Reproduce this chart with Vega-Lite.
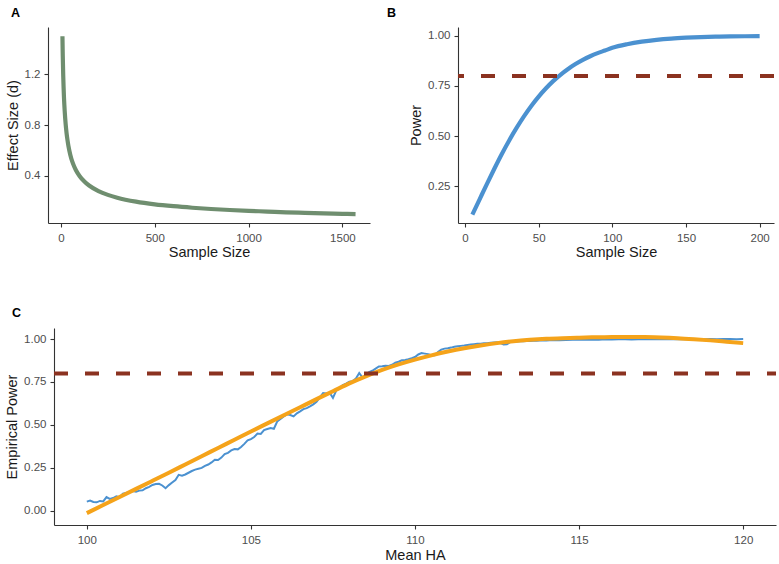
{
  "$schema": "https://vega.github.io/schema/vega-lite/v6.json",
  "padding": {"left": 4, "top": 6, "right": 2, "bottom": 2},
  "spacing": 47,
  "datasets": {
    "effect": [
      {"n": 8, "d": 1.497}, {"n": 9, "d": 1.40}, {"n": 10, "d": 1.325}, {"n": 12, "d": 1.195},
      {"n": 14, "d": 1.10}, {"n": 16, "d": 1.02}, {"n": 18, "d": 0.96}, {"n": 20, "d": 0.909},
      {"n": 25, "d": 0.809}, {"n": 30, "d": 0.736}, {"n": 35, "d": 0.68}, {"n": 40, "d": 0.634},
      {"n": 50, "d": 0.565}, {"n": 60, "d": 0.514}, {"n": 70, "d": 0.476}, {"n": 80, "d": 0.445},
      {"n": 100, "d": 0.398}, {"n": 125, "d": 0.356}, {"n": 150, "d": 0.325}, {"n": 200, "d": 0.281},
      {"n": 250, "d": 0.251}, {"n": 300, "d": 0.229}, {"n": 400, "d": 0.198}, {"n": 500, "d": 0.177},
      {"n": 600, "d": 0.162}, {"n": 700, "d": 0.150}, {"n": 800, "d": 0.140}, {"n": 900, "d": 0.132},
      {"n": 1000, "d": 0.125}, {"n": 1100, "d": 0.120}, {"n": 1200, "d": 0.114}, {"n": 1300, "d": 0.110},
      {"n": 1400, "d": 0.106}, {"n": 1500, "d": 0.102}, {"n": 1570, "d": 0.100}
    ],
    "power": [
      {"n": 5, "p": 0.1076}, {"n": 10, "p": 0.1851}, {"n": 15, "p": 0.2624}, {"n": 20, "p": 0.3377},
      {"n": 25, "p": 0.4101}, {"n": 30, "p": 0.4779}, {"n": 35, "p": 0.5403}, {"n": 40, "p": 0.5981},
      {"n": 45, "p": 0.6502}, {"n": 50, "p": 0.6969}, {"n": 55, "p": 0.7383}, {"n": 60, "p": 0.7753},
      {"n": 65, "p": 0.8072}, {"n": 70, "p": 0.835}, {"n": 75, "p": 0.8593}, {"n": 80, "p": 0.8803},
      {"n": 85, "p": 0.8984}, {"n": 90, "p": 0.9138}, {"n": 95, "p": 0.9271}, {"n": 100, "p": 0.9404},
      {"n": 110, "p": 0.9584}, {"n": 120, "p": 0.9712}, {"n": 130, "p": 0.9803}, {"n": 140, "p": 0.9867},
      {"n": 150, "p": 0.991}, {"n": 160, "p": 0.9941}, {"n": 170, "p": 0.9961}, {"n": 180, "p": 0.9975},
      {"n": 190, "p": 0.9984}, {"n": 200, "p": 0.999}
    ],
    "empirical": [
      {"x": 100.0, "y": 0.054}, {"x": 100.1, "y": 0.06}, {"x": 100.2, "y": 0.052}, {"x": 100.3, "y": 0.05},
      {"x": 100.4, "y": 0.058}, {"x": 100.5, "y": 0.055}, {"x": 100.6, "y": 0.08}, {"x": 100.7, "y": 0.07},
      {"x": 100.8, "y": 0.075}, {"x": 100.9, "y": 0.085}, {"x": 101.0, "y": 0.08}, {"x": 101.1, "y": 0.1},
      {"x": 101.2, "y": 0.105}, {"x": 101.3, "y": 0.11}, {"x": 101.4, "y": 0.116}, {"x": 101.5, "y": 0.112},
      {"x": 101.6, "y": 0.118}, {"x": 101.7, "y": 0.12}, {"x": 101.8, "y": 0.132}, {"x": 101.9, "y": 0.14},
      {"x": 102.0, "y": 0.151}, {"x": 102.1, "y": 0.156}, {"x": 102.2, "y": 0.158}, {"x": 102.3, "y": 0.148},
      {"x": 102.4, "y": 0.132}, {"x": 102.5, "y": 0.15}, {"x": 102.6, "y": 0.165}, {"x": 102.7, "y": 0.18},
      {"x": 102.8, "y": 0.21}, {"x": 102.9, "y": 0.205}, {"x": 103.0, "y": 0.212}, {"x": 103.1, "y": 0.222},
      {"x": 103.2, "y": 0.232}, {"x": 103.3, "y": 0.24}, {"x": 103.4, "y": 0.245}, {"x": 103.5, "y": 0.25},
      {"x": 103.6, "y": 0.262}, {"x": 103.7, "y": 0.27}, {"x": 103.8, "y": 0.282}, {"x": 103.9, "y": 0.298},
      {"x": 104.0, "y": 0.296}, {"x": 104.1, "y": 0.31}, {"x": 104.2, "y": 0.33}, {"x": 104.3, "y": 0.338},
      {"x": 104.4, "y": 0.352}, {"x": 104.5, "y": 0.36}, {"x": 104.6, "y": 0.358}, {"x": 104.7, "y": 0.372},
      {"x": 104.8, "y": 0.39}, {"x": 104.9, "y": 0.41}, {"x": 105.0, "y": 0.418}, {"x": 105.1, "y": 0.43},
      {"x": 105.2, "y": 0.45}, {"x": 105.3, "y": 0.448}, {"x": 105.4, "y": 0.47}, {"x": 105.5, "y": 0.476},
      {"x": 105.6, "y": 0.482}, {"x": 105.7, "y": 0.478}, {"x": 105.8, "y": 0.52}, {"x": 105.9, "y": 0.535},
      {"x": 106.0, "y": 0.55}, {"x": 106.1, "y": 0.562}, {"x": 106.2, "y": 0.558}, {"x": 106.3, "y": 0.55},
      {"x": 106.4, "y": 0.568}, {"x": 106.5, "y": 0.579}, {"x": 106.6, "y": 0.592}, {"x": 106.7, "y": 0.598},
      {"x": 106.8, "y": 0.608}, {"x": 106.9, "y": 0.62}, {"x": 107.0, "y": 0.635}, {"x": 107.1, "y": 0.66},
      {"x": 107.2, "y": 0.686}, {"x": 107.3, "y": 0.683}, {"x": 107.4, "y": 0.688}, {"x": 107.5, "y": 0.657},
      {"x": 107.6, "y": 0.70}, {"x": 107.7, "y": 0.715}, {"x": 107.8, "y": 0.732}, {"x": 107.9, "y": 0.74},
      {"x": 108.0, "y": 0.752}, {"x": 108.1, "y": 0.755}, {"x": 108.2, "y": 0.77}, {"x": 108.3, "y": 0.802},
      {"x": 108.4, "y": 0.775}, {"x": 108.5, "y": 0.79}, {"x": 108.6, "y": 0.808}, {"x": 108.7, "y": 0.815},
      {"x": 108.8, "y": 0.828}, {"x": 108.9, "y": 0.84}, {"x": 109.0, "y": 0.842}, {"x": 109.1, "y": 0.845},
      {"x": 109.2, "y": 0.843}, {"x": 109.3, "y": 0.85}, {"x": 109.4, "y": 0.862}, {"x": 109.5, "y": 0.868},
      {"x": 109.6, "y": 0.876}, {"x": 109.7, "y": 0.878}, {"x": 109.8, "y": 0.882}, {"x": 109.9, "y": 0.888},
      {"x": 110.0, "y": 0.895}, {"x": 110.1, "y": 0.91}, {"x": 110.2, "y": 0.918}, {"x": 110.3, "y": 0.915},
      {"x": 110.4, "y": 0.912}, {"x": 110.5, "y": 0.906}, {"x": 110.6, "y": 0.905}, {"x": 110.7, "y": 0.925},
      {"x": 110.8, "y": 0.938}, {"x": 110.9, "y": 0.944}, {"x": 111.0, "y": 0.946}, {"x": 111.1, "y": 0.95},
      {"x": 111.2, "y": 0.955}, {"x": 111.3, "y": 0.958}, {"x": 111.4, "y": 0.96}, {"x": 111.5, "y": 0.962},
      {"x": 111.6, "y": 0.965}, {"x": 111.7, "y": 0.968}, {"x": 111.8, "y": 0.97}, {"x": 111.9, "y": 0.972},
      {"x": 112.0, "y": 0.973}, {"x": 112.1, "y": 0.975}, {"x": 112.2, "y": 0.976}, {"x": 112.3, "y": 0.978},
      {"x": 112.4, "y": 0.98}, {"x": 112.5, "y": 0.981}, {"x": 112.6, "y": 0.976}, {"x": 112.7, "y": 0.968},
      {"x": 112.8, "y": 0.97}, {"x": 112.9, "y": 0.982}, {"x": 113.0, "y": 0.984}, {"x": 113.1, "y": 0.985},
      {"x": 113.2, "y": 0.987}, {"x": 113.3, "y": 0.987}, {"x": 113.4, "y": 0.988}, {"x": 113.5, "y": 0.989},
      {"x": 113.6, "y": 0.99}, {"x": 113.7, "y": 0.99}, {"x": 113.8, "y": 0.991}, {"x": 113.9, "y": 0.992},
      {"x": 114.0, "y": 0.992}, {"x": 114.2, "y": 0.994}, {"x": 114.4, "y": 0.993}, {"x": 114.6, "y": 0.994},
      {"x": 114.8, "y": 0.996}, {"x": 115.0, "y": 0.995}, {"x": 115.2, "y": 0.996}, {"x": 115.4, "y": 0.997},
      {"x": 115.6, "y": 0.996}, {"x": 115.8, "y": 0.998}, {"x": 116.0, "y": 0.997}, {"x": 116.2, "y": 0.998},
      {"x": 116.4, "y": 0.998}, {"x": 116.6, "y": 0.997}, {"x": 116.8, "y": 0.999}, {"x": 117.0, "y": 0.998},
      {"x": 117.2, "y": 0.999}, {"x": 117.4, "y": 0.998}, {"x": 117.6, "y": 0.999}, {"x": 117.8, "y": 0.999},
      {"x": 118.0, "y": 0.998}, {"x": 118.2, "y": 0.999}, {"x": 118.4, "y": 1.0}, {"x": 118.6, "y": 0.999},
      {"x": 118.8, "y": 0.999}, {"x": 119.0, "y": 1.0}, {"x": 119.2, "y": 0.999}, {"x": 119.4, "y": 1.0},
      {"x": 119.6, "y": 1.0}, {"x": 119.8, "y": 0.999}, {"x": 120.0, "y": 1.0}
    ],
    "fit": [
      {"x": 100.0, "y": -0.013}, {"x": 100.5, "y": 0.034}, {"x": 101.0, "y": 0.081}, {"x": 101.5, "y": 0.128},
      {"x": 102.0, "y": 0.175}, {"x": 102.5, "y": 0.222}, {"x": 103.0, "y": 0.27}, {"x": 103.5, "y": 0.318},
      {"x": 104.0, "y": 0.366}, {"x": 104.5, "y": 0.414}, {"x": 105.0, "y": 0.462}, {"x": 105.5, "y": 0.509},
      {"x": 106.0, "y": 0.556}, {"x": 106.5, "y": 0.603}, {"x": 107.0, "y": 0.65}, {"x": 107.5, "y": 0.696},
      {"x": 108.0, "y": 0.742}, {"x": 108.5, "y": 0.783}, {"x": 109.0, "y": 0.82}, {"x": 109.5, "y": 0.852},
      {"x": 110.0, "y": 0.88}, {"x": 110.5, "y": 0.905}, {"x": 111.0, "y": 0.927}, {"x": 111.5, "y": 0.946},
      {"x": 112.0, "y": 0.962}, {"x": 112.5, "y": 0.976}, {"x": 113.0, "y": 0.987}, {"x": 113.5, "y": 0.995},
      {"x": 114.0, "y": 1.001}, {"x": 114.5, "y": 1.005}, {"x": 115.0, "y": 1.008}, {"x": 115.5, "y": 1.01},
      {"x": 116.0, "y": 1.011}, {"x": 116.5, "y": 1.012}, {"x": 117.0, "y": 1.011}, {"x": 117.5, "y": 1.009},
      {"x": 118.0, "y": 1.005}, {"x": 118.5, "y": 0.999}, {"x": 119.0, "y": 0.992}, {"x": 119.5, "y": 0.984},
      {"x": 120.0, "y": 0.976}
    ]
  },
  "vconcat": [
    {
      "spacing": 17,
      "hconcat": [
        {
          "width": 322, "height": 196,
          "title": {"text": "A", "dx": -37, "offset": 8},
          "data": {"name": "effect"},
          "mark": {"type": "line", "color": "#6f8e6f", "strokeWidth": 4.2, "interpolate": "monotone"},
          "encoding": {
            "x": {"field": "n", "type": "quantitative", "scale": {"domain": [-69, 1647], "nice": false, "zero": false},
                  "axis": {"values": [0, 500, 1000, 1500], "format": "d", "title": "Sample Size"}},
            "y": {"field": "d", "type": "quantitative", "scale": {"domain": [0.03, 1.57], "nice": false, "zero": false},
                  "axis": {"values": [0.4, 0.8, 1.2], "format": ".1f", "title": "Effect Size (d)"}}
          }
        },
        {
          "width": 316, "height": 196,
          "title": {"text": "B", "dx": -71, "offset": 8},
          "layer": [
            {
              "data": {"name": "power"},
              "mark": {"type": "line", "color": "#4b91d0", "strokeWidth": 4.2, "interpolate": "monotone"},
              "encoding": {
                "x": {"field": "n", "type": "quantitative", "scale": {"domain": [-4.75, 209.75], "nice": false, "zero": false},
                      "axis": {"values": [0, 50, 100, 150, 200], "title": "Sample Size"}},
                "y": {"field": "p", "type": "quantitative", "scale": {"domain": [0.0655, 1.0445], "nice": false, "zero": false},
                      "axis": {"values": [0.25, 0.5, 0.75, 1], "format": ".2f", "title": "Power"}}
              }
            },
            {
              "data": {"values": [{"h": 0.8}]},
              "mark": {"type": "rule", "color": "#8b3220", "strokeWidth": 4, "strokeDash": [14, 17]},
              "encoding": {"y": {"field": "h", "type": "quantitative"}}
            }
          ]
        }
      ]
    },
    {
      "hconcat": [
        {
          "width": 728, "height": 197,
          "title": {"text": "C", "dx": -36, "offset": 9},
          "layer": [
            {
              "data": {"name": "empirical"},
              "mark": {"type": "line", "color": "#4b91d0", "strokeWidth": 2},
              "encoding": {
                "x": {"field": "x", "type": "quantitative", "scale": {"domain": [99, 121], "nice": false, "zero": false, "range": [6, 728]},
                      "axis": {"values": [100, 105, 110, 115, 120], "title": "Mean HA", "labelPadding": 5.5, "titlePadding": 2}},
                "y": {"field": "y", "type": "quantitative", "scale": {"domain": [-0.082, 1.064], "nice": false, "zero": false},
                      "axis": {"values": [0, 0.25, 0.5, 0.75, 1], "format": ".2f", "title": "Empirical Power", "offset": -6}}
              }
            },
            {
              "data": {"name": "fit"},
              "mark": {"type": "line", "color": "#f5a31a", "strokeWidth": 4, "interpolate": "monotone"},
              "encoding": {
                "x": {"field": "x", "type": "quantitative"},
                "y": {"field": "y", "type": "quantitative"}
              }
            },
            {
              "data": {"values": [{"h": 0.8, "x0": 99, "x1": 121}]},
              "mark": {"type": "rule", "color": "#8b3220", "strokeWidth": 4, "strokeDash": [14, 17]},
              "encoding": {
                "x": {"field": "x0", "type": "quantitative"},
                "x2": {"field": "x1"},
                "y": {"field": "h", "type": "quantitative"}
              }
            }
          ]
        }
      ]
    }
  ],
  "config": {
    "font": "Liberation Sans",
    "view": {"stroke": null},
    "axis": {
      "grid": false, "domainColor": "#333333", "domainWidth": 1.1, "tickColor": "#333333", "tickWidth": 1.1,
      "tickSize": 4, "labelFontSize": 11.5, "labelColor": "#4d4d4d", "labelPadding": 4,
      "titleFontSize": 14.5, "titleFontWeight": "normal", "titleColor": "#1a1a1a", "titlePadding": 4
    },
    "axisX": {"labelPadding": 5, "titlePadding": 2},
    "title": {"fontSize": 12.5, "fontWeight": "bold", "anchor": "start", "frame": "group", "color": "#000000"}
  }
}
